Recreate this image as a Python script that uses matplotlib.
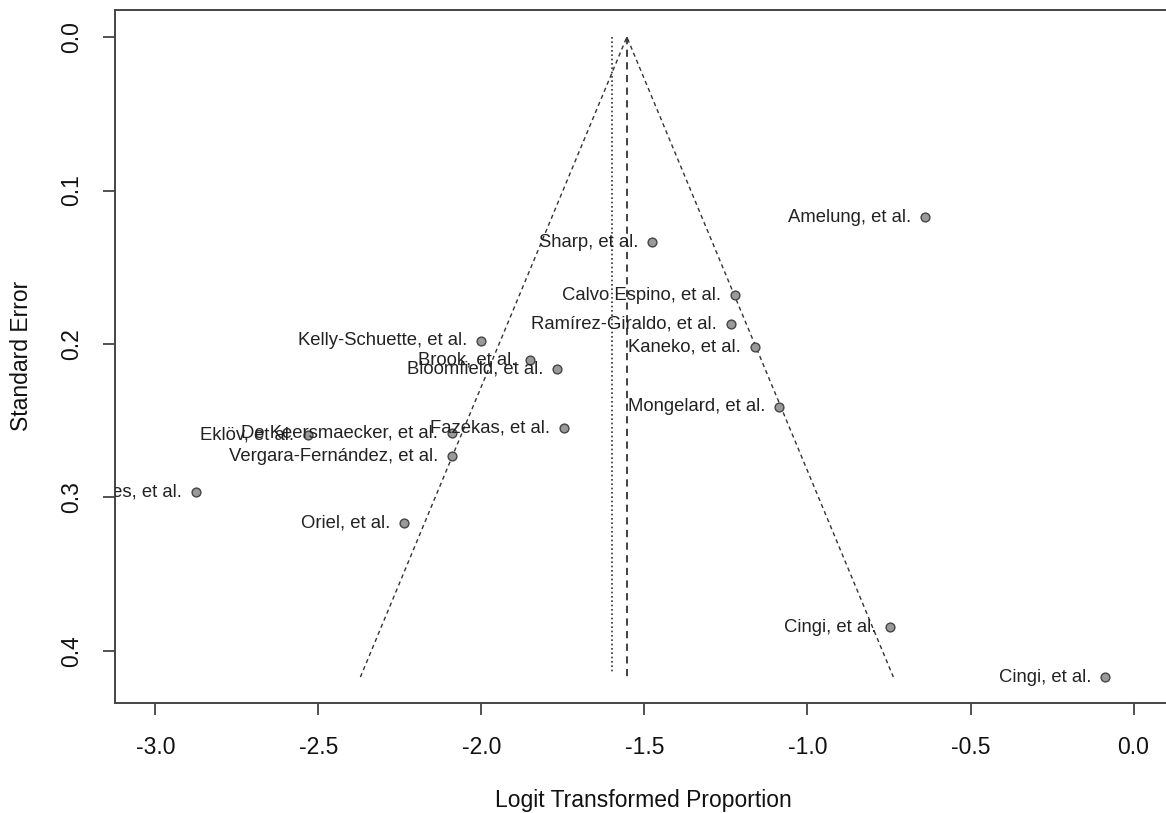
import matplotlib
matplotlib.use("Agg")
import matplotlib.pyplot as plt
import numpy as np

plt.rcParams['font.family'] = ['Liberation Sans', 'DejaVu Sans']

# ---- data ----
study_labels = ["Amelung, et al.", "Sharp, et al.", "Calvo Espino, et al.",
                "Ramírez-Giraldo, et al.", "Kaneko, et al.", "Mongelard, et al.",
                "Kelly-Schuette, et al.", "Brook, et al.", "Bloomfield, et al.",
                "Fazekas, et al.", "De Keersmaecker, et al.", "Eklöv, et al.",
                "Vergara-Fernández, et al.", "Fuentes, et al.", "Oriel, et al.",
                "Cingi, et al.", "Cingi, et al."]
logit_prop = [-0.640, -1.477, -1.222, -1.235, -1.161, -1.087,
              -2.002, -1.851, -1.767, -1.747, -2.091, -2.532,
              -2.091, -2.876, -2.238, -0.747, -0.087]
std_err = [0.1173, 0.1336, 0.1681, 0.1870, 0.2020, 0.2410,
           0.1980, 0.2104, 0.2160, 0.2547, 0.2580, 0.2593,
           0.2730, 0.2964, 0.3166, 0.3844, 0.4170]
pooled_estimate = -1.554
secondary_estimate = -1.601
x_ticks = [-3.0, -2.5, -2.0, -1.5, -1.0, -0.5, 0.0]
y_ticks = [0.0, 0.1, 0.2, 0.3, 0.4]

W, H = 1166, 813
fig = plt.figure(figsize=(W / 100, H / 100), dpi=100)
left_px, right_px, top_px, bottom_px = 115, 1172, 10, 703
ax = fig.add_axes([left_px / W, 1 - bottom_px / H,
                   (right_px - left_px) / W, (bottom_px - top_px) / H])

se_max = max(std_err)
# funnel
ax.plot([pooled_estimate - 1.96 * se_max, pooled_estimate, pooled_estimate + 1.96 * se_max],
        [se_max, 0, se_max], color='#333333', lw=1.0, dashes=(3, 2.5))
ax.plot([pooled_estimate, pooled_estimate], [0, se_max], color='#333333', lw=1.3, dashes=(4, 3))
ax.plot([secondary_estimate, secondary_estimate], [0, se_max * 0.993], color='#333333', lw=1.2,
        dashes=(1, 1.6))

ax.scatter(logit_prop, std_err, s=40, facecolor='#9a9a9a', edgecolor='#444444',
           linewidth=1.0, zorder=3)
for lab, xv, yv in zip(study_labels, logit_prop, std_err):
    ax.annotate(lab, (xv, yv), xytext=(-10, 0), textcoords='offset points',
                ha='right', va='center', fontsize=13.3, color='#222222',
                annotation_clip=False, clip_on=True)

ax.set_xlim(-3.124, 0.118)
ax.set_ylim(0.4339, -0.0176)
ax.set_xticks(x_ticks)
ax.set_xticklabels([f"{v:.1f}" for v in x_ticks])
ax.set_yticks(y_ticks)
ax.set_yticklabels([f"{v:.1f}" for v in y_ticks], rotation=90, va='center')

ax.tick_params(axis='both', direction='out', length=8.6, width=1.3, color='#444444',
               labelsize=16.5, labelcolor='#111111')
ax.tick_params(axis='x', pad=15)
ax.tick_params(axis='y', pad=14)

for s in ax.spines.values():
    s.set_color('#444444')
    s.set_linewidth(1.4)
ax.spines['right'].set_visible(False)

ax.set_xlabel("Logit Transformed Proportion", fontsize=16.5, color='#111111')
ax.set_ylabel("Standard Error", fontsize=16.5, color='#111111')
ax.xaxis.set_label_coords((643 - left_px) / (right_px - left_px), (bottom_px - 800) / (bottom_px - top_px))
ax.xaxis.label.set_va('center')
ax.yaxis.set_label_coords((22 - left_px) / (right_px - left_px), (bottom_px - 356) / (bottom_px - top_px))
ax.yaxis.label.set_va('center')

fig.savefig("out.png", dpi=100)
